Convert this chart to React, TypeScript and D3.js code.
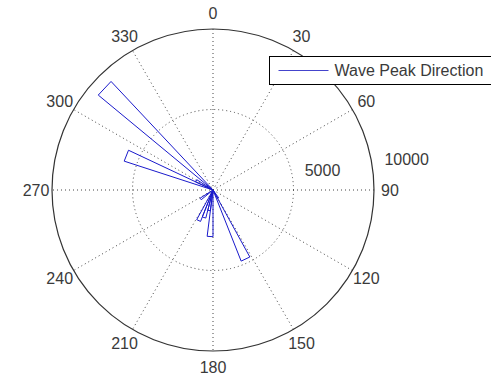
import React from 'react'
import * as d3 from 'd3'

// rose histogram: 50 bins of 7.2 degrees, compass orientation (0 up, clockwise)
const binCount = 50
const binIndex = [20, 21, 25, 26, 27, 28, 32, 40, 41, 43]
const binValue = [600, 4750, 2900, 1300, 1800, 2100, 950, 5800, 1200, 9250]

const angleTicks = [0, 30, 60, 90, 120, 150, 180, 210, 240, 270, 300, 330]
const radialTicks = [5000, 10000]
const legendLabel = 'Wave Peak Direction'

const W = 491
const H = 377
const cx = 213
const cy = 190
const R = 161

export default function App() {
  const r = d3.scaleLinear().domain([0, 10000]).range([0, R])
  const binW = 360 / binCount
  const rad = (deg: number) => (deg * Math.PI) / 180
  const px = (deg: number, v: number) => cx + r(v) * Math.sin(rad(deg))
  const py = (deg: number, v: number) => cy - r(v) * Math.cos(rad(deg))

  const bars = binIndex.map((b, i) => {
    const a1 = b * binW
    const a2 = (b + 1) * binW
    const v = binValue[i]
    const p = d3.path()
    p.moveTo(cx, cy)
    p.lineTo(px(a1, v), py(a1, v))
    p.lineTo(px(a2, v), py(a2, v))
    p.closePath()
    return p.toString()
  })

  const textCol = '#3a3a3a'
  const font = '"Liberation Sans", Arial, sans-serif'

  return (
    <svg width={W} height={H} style={{ position: 'absolute', left: 0, top: 0, background: '#fff' }}>
      <rect width={W} height={H} fill="#fff" />
      {/* spokes */}
      {angleTicks.slice(0, 6).map((a) => (
        <line key={'s' + a}
          x1={px(a, 10000)} y1={py(a, 10000)}
          x2={px(a + 180, 10000)} y2={py(a + 180, 10000)}
          stroke="#444" strokeWidth={1} strokeDasharray="1,3" />
      ))}
      {/* inner ring */}
      <circle cx={cx} cy={cy} r={r(radialTicks[0])} fill="none" stroke="#444" strokeWidth={1} strokeDasharray="1,3" />
      {/* outer ring */}
      <circle cx={cx} cy={cy} r={r(radialTicks[1])} fill="none" stroke="#333" strokeWidth={1.2} />
      {/* angle labels */}
      {angleTicks.map((a) => (
        <text key={'a' + a} x={cx + (R + 16) * Math.sin(rad(a))} y={cy - (R + 16) * Math.cos(rad(a))}
          textAnchor="middle" dominantBaseline="central" fontFamily={font} fontSize={16} fill={textCol}>
          {a}
        </text>
      ))}
      {/* radial labels */}
      {radialTicks.map((t) => (
        <text key={'r' + t} x={cx + r(t) * Math.cos(rad(8)) + 12} y={cy - r(t) * Math.sin(rad(8)) - 3}
          fontFamily={font} fontSize={16} fill={textCol}>
          {t}
        </text>
      ))}
      {/* rose bars */}
      {bars.map((d, i) => (
        <path key={'b' + i} d={d} fill="none" stroke="#1a1acc" strokeWidth={1} strokeLinejoin="miter" />
      ))}
      {/* legend */}
      <g transform="translate(269.5,56.5)">
        <rect width={225} height={28} fill="#fff" stroke="#000" strokeWidth={1} />
        <line x1={9} x2={59} y1={14} y2={14} stroke="#4444cc" strokeWidth={1} />
        <text x={65} y={14} dominantBaseline="central" fontFamily={font} fontSize={16} fill={textCol}>
          {legendLabel}
        </text>
      </g>
    </svg>
  )
}
